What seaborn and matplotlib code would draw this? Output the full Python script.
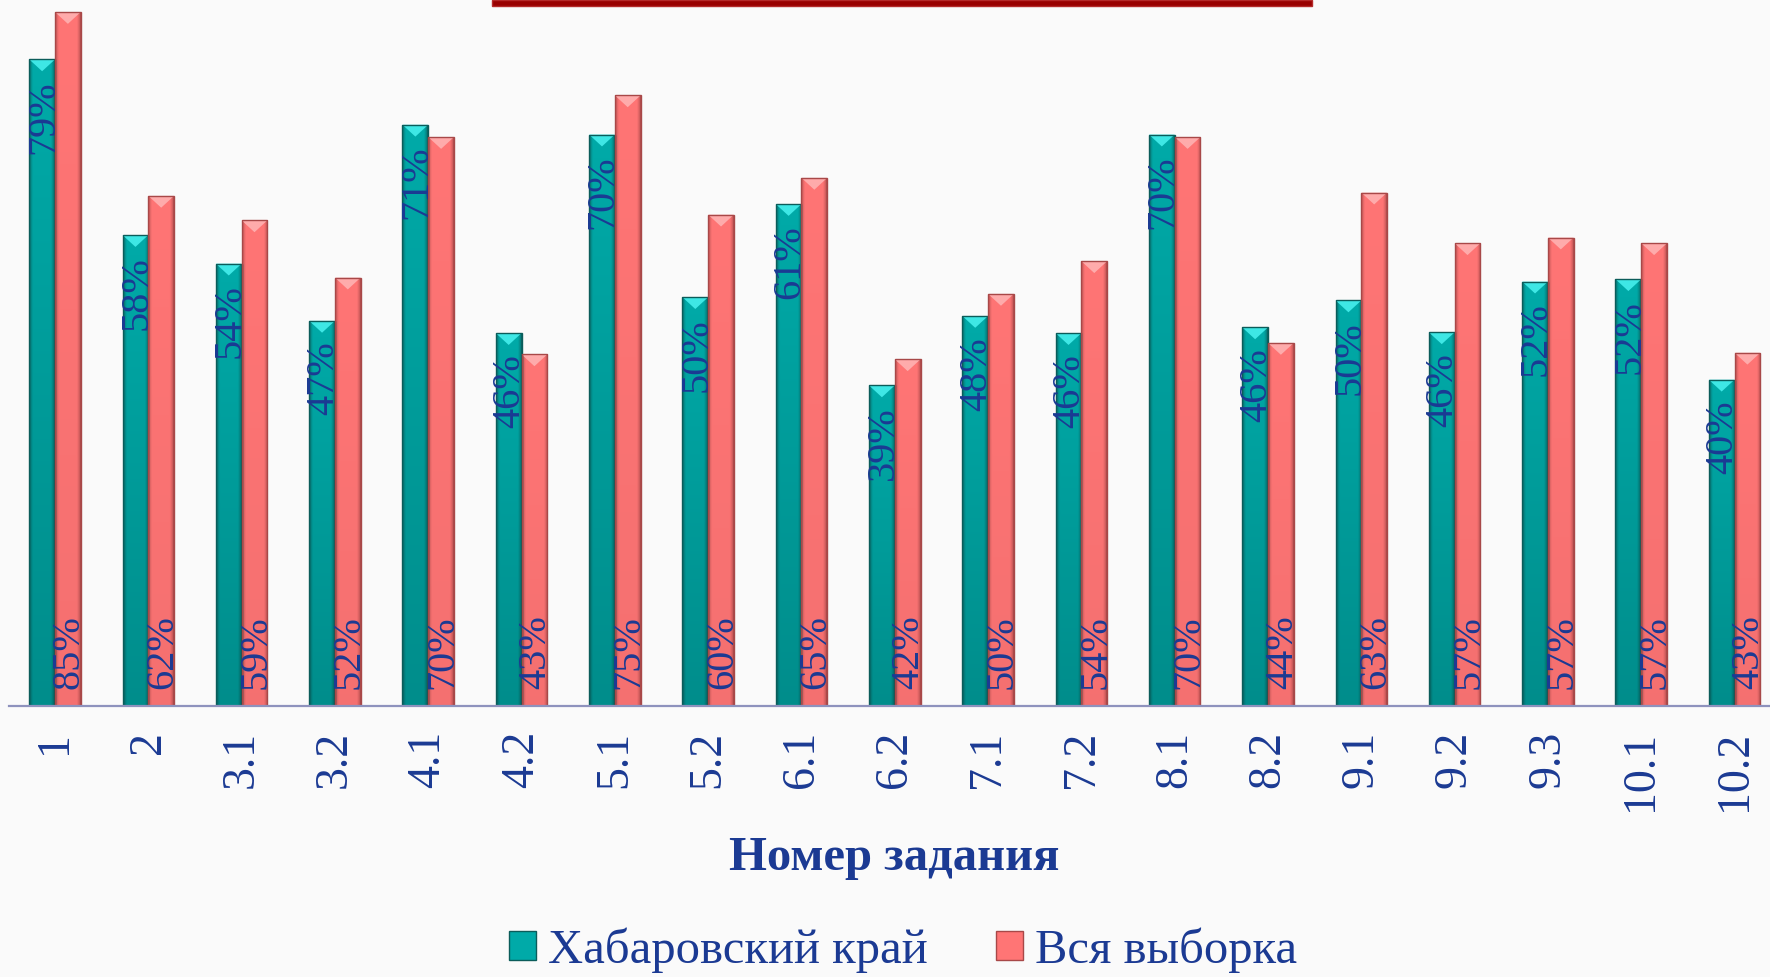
import numpy as np
import pandas as pd
import matplotlib
matplotlib.use("Agg")
import matplotlib.pyplot as plt
import seaborn as sns
from matplotlib.patches import Patch, Polygon, Rectangle
from matplotlib.colors import to_rgb

# ---- data ----
tasks = ["1", "2", "3.1", "3.2", "4.1", "4.2", "5.1", "5.2", "6.1", "6.2",
         "7.1", "7.2", "8.1", "8.2", "9.1", "9.2", "9.3", "10.1", "10.2"]
khabarovsk = [79.1, 57.6, 54.1, 47.1, 71.1, 45.6, 69.9, 50.0, 61.4, 39.2,
              47.7, 45.6, 69.9, 46.3, 49.6, 45.7, 51.9, 52.2, 39.9]
whole_sample = [84.9, 62.4, 59.4, 52.4, 69.6, 43.0, 74.7, 60.1, 64.6, 42.4,
                50.4, 54.4, 69.6, 44.4, 62.8, 56.6, 57.3, 56.6, 43.2]
series_names = ["Хабаровский край", "Вся выборка"]
x_title = "Номер задания"

# ---- style ----
sns.set_style("white")
plt.rcParams["font.family"] = ["Liberation Serif", "DejaVu Serif"]
BG = "#fafafa"
TEAL = "#00aaa8"
RED = "#ff7575"
TEAL_EDGE = "#0b5c5a"
RED_EDGE = "#a84848"
TEXT = "#1b3a93"

W, H = 1770, 977
fig = plt.figure(figsize=(W / 100, H / 100), dpi=100, facecolor=BG)
base_y = 705.7
ax = fig.add_axes([9 / W, 1 - base_y / H, 1 - 9 / W, base_y / H])
ax.set_facecolor(BG)

n = len(tasks)
df = pd.DataFrame({
    "task": tasks * 2,
    "value": khabarovsk + whole_sample,
    "series": [series_names[0]] * n + [series_names[1]] * n,
})

sns.barplot(data=df, x="task", y="value", hue="series", order=tasks,
            hue_order=series_names, palette=[TEAL, RED], width=0.552, gap=0,
            saturation=1, legend=False, ax=ax, edgecolor="none", linewidth=0)

xlim = (-0.493, 18.38)
ylim = (0, 86.37)

# gradient shading + bevel cap on each bar
def shade(color, dark_edge, vert):
    c = np.array(to_rgb(color))
    d = np.array(to_rgb(dark_edge))
    N, M = 40, 60
    t = np.linspace(0, 1, N)
    hprof = np.clip(np.sin(np.pi * t) * 2.2, 0, 1) ** 0.6
    img = np.zeros((M, N, 3))
    for j in range(M):
        vy = j / (M - 1)
        vf = 1 - vert * (1 - vy)
        row = (d[None, :] * (1 - hprof[:, None]) + c[None, :] * hprof[:, None])
        img[j] = row * vf
    return np.clip(img, 0, 1)

cfg = [(TEAL, TEAL_EDGE, 0.17, "#45eeec", khabarovsk),
       (RED, RED_EDGE, 0.04, "#ffb2b2", whole_sample)]
for cont, (col, edge, vert, capc, vals) in zip(ax.containers, cfg):
    img = shade(col, edge, vert)
    for patch, v in zip(cont, vals):
        x0, w, h = patch.get_x(), patch.get_width(), patch.get_height()
        im = ax.imshow(img, extent=[x0, x0 + w, 0, h], origin="lower",
                       aspect="auto", zorder=2.1, interpolation="bilinear")
        im.set_clip_path(patch)
        ax.add_patch(Rectangle((x0, 0), w, h, facecolor="none",
                               edgecolor=edge, linewidth=1, zorder=2.3))
        ax.add_patch(Polygon([(x0, h), (x0 + w, h), (x0 + w / 2, h - 1.45)],
                             closed=True, facecolor=capc, edgecolor="none",
                             zorder=2.2, alpha=0.9))

# value labels
teal_cont, red_cont = ax.containers[0], ax.containers[1]
for patch, v in zip(teal_cont, khabarovsk):
    cx = patch.get_x() + patch.get_width() / 2
    ax.annotate(f"{v:.0f}%", xy=(cx, patch.get_height()), xytext=(1, -15),
                textcoords="offset points", rotation=90, ha="center", va="top",
                fontsize=29, color=TEXT, zorder=5)
for patch, v in zip(red_cont, whole_sample):
    cx = patch.get_x() + patch.get_width() / 2
    ax.annotate(f"{v:.0f}%", xy=(cx, 0), xytext=(1, 12),
                textcoords="offset points", rotation=90, ha="center",
                va="bottom", fontsize=29, color=TEXT, zorder=5)

ax.set_xlim(*xlim)
ax.set_ylim(*ylim)
ax.set_yticks([])
ax.set_xlabel("")
ax.set_ylabel("")
ax.tick_params(axis="x", length=0, pad=18, labelsize=33, labelcolor=TEXT,
               labelrotation=90)
for s in ["top", "left", "right"]:
    ax.spines[s].set_visible(False)
ax.spines["bottom"].set_color("#8e92bd")
ax.spines["bottom"].set_linewidth(1.6)
ax.spines["bottom"].set_zorder(3)

fig.text(894 / W, 1 - 858 / H, x_title, ha="center", va="center",
         fontsize=35, fontweight="bold", color=TEXT)

handles = [Patch(facecolor=TEAL, edgecolor=TEAL_EDGE),
           Patch(facecolor=RED, edgecolor=RED_EDGE)]
leg = fig.legend(handles, series_names, loc="center",
                 bbox_to_anchor=(903 / W, 27 / H), ncol=2, frameon=False,
                 fontsize=35, handlelength=0.55, handleheight=0.55,
                 handletextpad=0.25, columnspacing=1.4, borderpad=0)
for t in leg.get_texts():
    t.set_color(TEXT)

# decorative red line at top
fig.add_artist(Rectangle((492 / W, 1 - 6 / H), (1312 - 492) / W, 6 / H,
                         transform=fig.transFigure, facecolor="#990000",
                         edgecolor="#b52a2a", linewidth=1))

fig.savefig("out.png", dpi=100, facecolor=BG)
